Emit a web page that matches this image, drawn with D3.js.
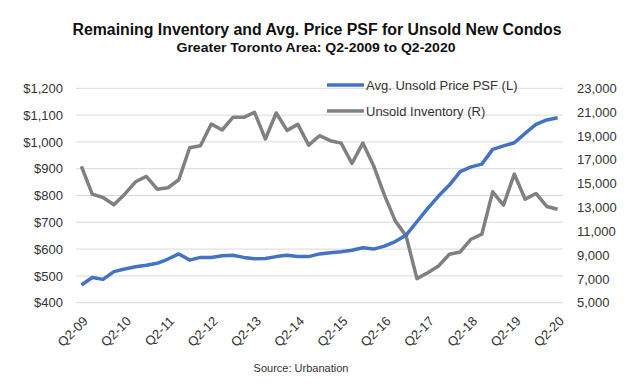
<!DOCTYPE html>
<html>
<head>
<meta charset="utf-8">
<script src="https://cdn.jsdelivr.net/npm/d3@7"></script>
<style>
  html, body { margin: 0; padding: 0; background: #fff; }
  svg { display: block; font-family: "Liberation Sans", Arial, sans-serif; }
</style>
</head>
<body>
<svg id="chart" width="640" height="385"></svg>
<script>
const quarters = [
  "Q2-09","Q3-09","Q4-09","Q1-10","Q2-10","Q3-10","Q4-10","Q1-11","Q2-11","Q3-11","Q4-11","Q1-12",
  "Q2-12","Q3-12","Q4-12","Q1-13","Q2-13","Q3-13","Q4-13","Q1-14","Q2-14","Q3-14","Q4-14","Q1-15",
  "Q2-15","Q3-15","Q4-15","Q1-16","Q2-16","Q3-16","Q4-16","Q1-17","Q2-17","Q3-17","Q4-17","Q1-18",
  "Q2-18","Q3-18","Q4-18","Q1-19","Q2-19","Q3-19","Q4-19","Q1-20","Q2-20"
];
const tickLabels = ["Q2-09","Q2-10","Q2-11","Q2-12","Q2-13","Q2-14","Q2-15","Q2-16","Q2-17","Q2-18","Q2-19","Q2-20"];

// Avg. unsold price PSF, left axis ($)
const pricePsf = [
  466, 494, 487, 516, 526, 534, 540, 547, 563, 582, 559, 569,
  569, 575, 577, 569, 564, 565, 572, 577, 572, 572, 582, 586,
  590, 596, 605, 600, 611, 628, 652, 702, 752, 798, 839, 889,
  907, 917, 972, 985, 997, 1032, 1065, 1082, 1090
];
// Unsold inventory, right axis (units)
const inventory = [
  16440, 14110, 13830, 13220, 14110, 15150, 15600, 14530, 14650, 15320, 18010, 18180,
  20000, 19500, 20560, 20560, 20980, 18740, 20930, 19470, 19970, 18230, 19020, 18600,
  18400, 16690, 18400, 16500, 14030, 11870, 10610, 7020, 7520, 8080, 9070, 9260,
  10330, 10750, 14310, 13190, 15800, 13690, 14170, 13080, 12850
];
const leftTicks = [400, 500, 600, 700, 800, 900, 1000, 1100, 1200];
const rightTicks = [5000, 7000, 9000, 11000, 13000, 15000, 17000, 19000, 21000, 23000];

const svg = d3.select("#chart");
const X0 = 76, X1 = 563, YTOP = 88.3, YBOT = 302.7;
const BLUE = "#4472C4", GRAY = "#808080", TXT = "#333";

const x = d3.scalePoint().domain(quarters).range([X0, X1]).padding(0.5);
const yL = d3.scaleLinear().domain([400, 1200]).range([YBOT, YTOP]);
const yR = d3.scaleLinear().domain([5000, 23000]).range([YBOT, YTOP]);

// titles
svg.append("text")
  .attr("x", 317).attr("y", 35)
  .attr("text-anchor", "middle")
  .attr("font-family", "'Liberation Sans Narrow', 'Arial Narrow', 'Liberation Sans', Arial, sans-serif")
  .attr("font-weight", "bold").attr("font-size", "16px")
  .attr("textLength", 489).attr("lengthAdjust", "spacingAndGlyphs")
  .attr("fill", "#111")
  .text("Remaining Inventory and Avg. Price PSF for Unsold New Condos");
svg.append("text")
  .attr("x", 316).attr("y", 52)
  .attr("text-anchor", "middle")
  .attr("font-family", "'Liberation Sans Narrow', 'Arial Narrow', 'Liberation Sans', Arial, sans-serif")
  .attr("font-weight", "bold").attr("font-size", "13.5px")
  .attr("textLength", 279).attr("lengthAdjust", "spacingAndGlyphs")
  .attr("fill", "#111")
  .text("Greater Toronto Area: Q2-2009 to Q2-2020");

// gridlines
svg.append("g").selectAll("line")
  .data(leftTicks)
  .join("line")
  .attr("x1", X0).attr("x2", X1)
  .attr("y1", d => yL(d)).attr("y2", d => yL(d))
  .attr("stroke", "#d9d9d9").attr("stroke-width", 1);

// left axis
const leftAxis = svg.append("g")
  .attr("transform", `translate(${X0 - 10},0)`)
  .call(d3.axisLeft(yL).tickValues(leftTicks).tickSize(0).tickPadding(3)
    .tickFormat(d => "$" + d3.format(",")(d)));
leftAxis.select(".domain").remove();
leftAxis.selectAll("text")
  .attr("font-family", "'Liberation Sans', Arial, sans-serif")
  .attr("font-size", "13px").attr("fill", TXT);

// right axis
const rightAxis = svg.append("g")
  .attr("transform", `translate(${X1 + 14},0)`)
  .call(d3.axisRight(yR).tickValues(rightTicks).tickSize(0).tickPadding(0)
    .tickFormat(d3.format(",")));
rightAxis.select(".domain").remove();
rightAxis.selectAll("text")
  .attr("font-family", "'Liberation Sans', Arial, sans-serif")
  .attr("font-size", "13px").attr("fill", TXT);

// x labels rotated
svg.append("g").selectAll("text")
  .data(tickLabels)
  .join("text")
  .attr("transform", d => `translate(${x(d) + 4},${YBOT + 16}) rotate(-45)`)
  .attr("text-anchor", "end")
  .attr("dy", "0.35em")
  .attr("font-family", "'Liberation Sans', Arial, sans-serif")
  .attr("font-size", "13px").attr("fill", TXT)
  .text(d => d);

// lines
const invLine = d3.line().x((d, i) => x(quarters[i])).y(d => yR(d));
const priceLine = d3.line().x((d, i) => x(quarters[i])).y(d => yL(d));

svg.append("path")
  .datum(inventory)
  .attr("d", invLine)
  .attr("fill", "none").attr("stroke", GRAY)
  .attr("stroke-width", 3.5).attr("stroke-linejoin", "round");
svg.append("path")
  .datum(pricePsf)
  .attr("d", priceLine)
  .attr("fill", "none").attr("stroke", BLUE)
  .attr("stroke-width", 3.5).attr("stroke-linejoin", "round");

// legend
const legendItems = [
  { label: "Avg. Unsold Price PSF (L)", color: BLUE },
  { label: "Unsold Inventory (R)", color: GRAY }
];
const legend = svg.append("g").selectAll("g")
  .data(legendItems)
  .join("g")
  .attr("transform", (d, i) => `translate(327,${85 + i * 26})`);
legend.append("line")
  .attr("x1", 0).attr("x2", 37)
  .attr("stroke", d => d.color).attr("stroke-width", 3.5);
legend.append("text")
  .attr("x", 39).attr("dy", "0.35em")
  .attr("font-family", "'Liberation Sans', Arial, sans-serif")
  .attr("font-size", "13px").attr("fill", TXT)
  .text(d => d.label);

// source
svg.append("text")
  .attr("x", 301).attr("y", 372)
  .attr("text-anchor", "middle")
  .attr("font-family", "'Liberation Sans', Arial, sans-serif")
  .attr("font-size", "11px").attr("fill", TXT)
  .text("Source: Urbanation");
</script>
</body>
</html>
